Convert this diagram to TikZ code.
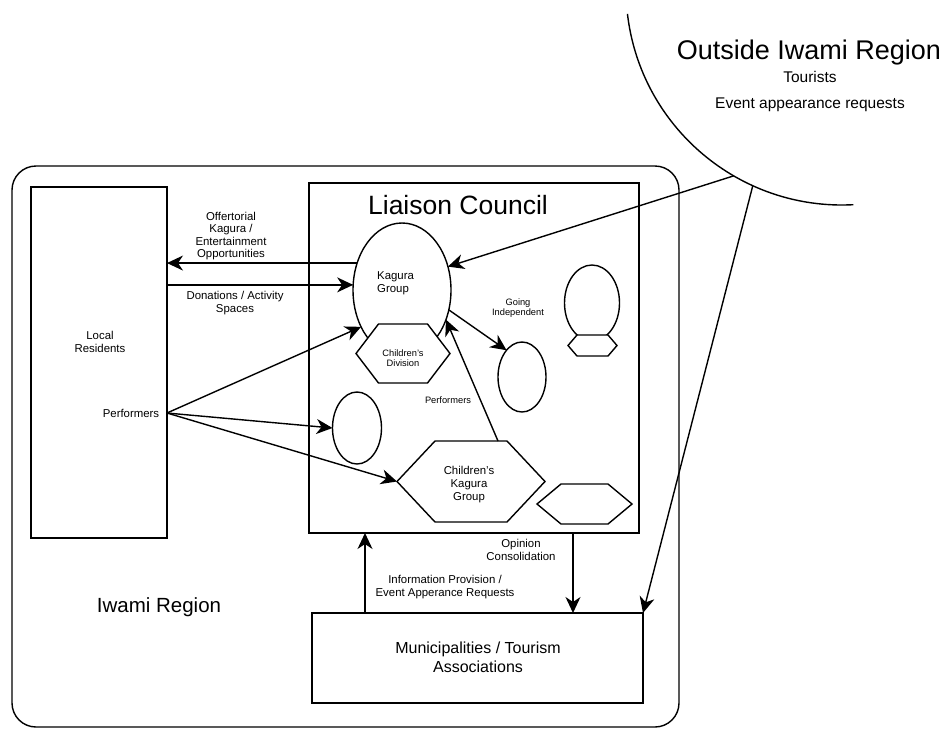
\documentclass[tikz,border=0pt]{standalone}
\usepackage{fontspec}
\setmainfont{Liberation Sans}
\usetikzlibrary{arrows.meta,shapes.geometric}
\newcommand\hexnode[6]{%
  \coordinate (#1) at (#2,#3);
  \coordinate (#1-W) at ({#2-#4},#3);
  \coordinate (#1-E) at ({#2+#4},#3);
  \coordinate (#1-NW) at ({#2-#6},{#3-#5});
  \coordinate (#1-NE) at ({#2+#6},{#3-#5});
  \coordinate (#1-SE) at ({#2+#6},{#3+#5});
  \coordinate (#1-SW) at ({#2-#6},{#3+#5});
  \draw[ln, fill=white] (#1-W) -- (#1-NW) -- (#1-NE) -- (#1-E) -- (#1-SE) -- (#1-SW) -- cycle;
}
\tikzset{
  ln/.style={line width=1.4pt, line join=miter},
  arr/.style={ln, -{Stealth[length=16pt,width=15pt,inset=5pt]}},
  box/.style={draw, ln, rectangle, inner sep=0pt, outer sep=0pt},
  ell/.style={draw, ln, ellipse, inner sep=0pt, outer sep=0pt, fill=white},
  lbl/.style={inner sep=0pt, align=center, font=\fontsize{11.4}{12.6}\selectfont},
  tinylbl/.style={inner sep=0pt, align=center, font=\fontsize{9.3}{10.3}\selectfont},
}
\begin{document}
\begin{tikzpicture}[x=1pt,y=-1pt]
\useasboundingbox (0,0) rectangle (948,729);

% Outside Iwami Region
\coordinate (oc) at (842,-11);
\draw[ln] ([shift={(173.4:216)}]oc) arc[start angle=173.4, end angle=87, radius=216];
\coordinate (b1) at ([shift={(120.1:216)}]oc);
\coordinate (b2) at ([shift={(114.4:216)}]oc);
\node[inner sep=0pt, font=\fontsize{27}{30}\selectfont] (outt) at (809,53) {Outside Iwami Region};
\node[inner sep=0pt, font=\fontsize{15.5}{18}\selectfont] (tour) at (810,77) {Tourists};
\node[inner sep=0pt, font=\fontsize{15.5}{18}\selectfont] (evreq) at (810,105) {Event appearance requests};

% Iwami region
\node[box, rounded corners=24pt, minimum width=667pt, minimum height=561pt] (iwami) at (345.5,446.5) {};
\node[inner sep=0pt, font=\fontsize{20.5}{24}\selectfont] (iwt) at (159,607) {Iwami Region};

% Local residents
\node[box, minimum width=136pt, minimum height=351pt] (locres) at (99,362.5) {};
\node[lbl] (lrt) at (100,342) {Local\\Residents};
\node[lbl] (perf) at (131,413) {Performers};
\coordinate (pf) at (locres.east |- perf.east);

% Liaison council
\node[box, minimum width=330pt, minimum height=350pt] (liaison) at (474,358) {};
\node[inner sep=0pt, font=\fontsize{26.5}{30}\selectfont] (lct) at (458,205) {Liaison Council};

% Ellipses
\node[ell, minimum width=98pt, minimum height=134pt] (kagura) at (402,290) {};
\node[inner sep=0pt, align=left, anchor=west, font=\fontsize{11.4}{12.6}\selectfont] (kgt) at (377,283) {Kagura\\Group};
\node[ell, minimum width=49pt, minimum height=72pt] (ell2) at (357,428) {};
\node[ell, minimum width=48pt, minimum height=70pt] (ell3) at (522,377) {};
\node[ell, minimum width=55pt, minimum height=76pt] (ell4) at (592,303) {};

% Hexagons
\hexnode{cdiv}{403}{353.5}{47}{29.5}{24.5}
\node[tinylbl] (cdt) at (403,358) {Children's\\Division};
\hexnode{ckg}{471}{481.5}{74}{40.5}{36}
\node[lbl] (ckgt) at (469,484.5) {Children's\\Kagura\\Group};
\hexnode{hexc}{584.5}{504}{47.5}{20}{23.5}
\hexnode{hexd}{592.5}{345.5}{24.5}{10.5}{15.5}

\node[tinylbl] (goind) at (518,308) {Going\\Independent};
\node[tinylbl] (perf2) at (448,400) {Performers};

% Municipalities
\node[box, minimum width=331pt, minimum height=90pt] (muni) at (477.5,658) {};
\node[inner sep=0pt, align=center, font=\fontsize{16}{19}\selectfont] (munit) at (478,657) {Municipalities / Tourism\\Associations};

% Labels on connectors
\node[lbl] (offt) at (231,236) {Offertorial\\Kagura /\\Entertainment\\Opportunities};
\node[lbl] (dont) at (235,303) {Donations / Activity\\Spaces};
\node[lbl] (opt) at (521,550) {Opinion\\Consolidation};
\node[lbl] (inft) at (445,587) {Information Provision /\\Event Apperance Requests};

% Connectors
\draw[arr] (kagura.149) -- (kagura.149 -| locres.east);
\draw[arr] (kagura.174 -| locres.east) -- (kagura.174);
\draw[arr] (pf) -- (kagura.222);
\draw[arr] (pf) -- (ell2.west);
\draw[arr] (pf) -- (ckg-W);
\draw[arr] (kagura.-23) -- (ell3.120);
\coordinate (ckgtop) at (498,441);
\draw[arr] (ckgtop) -- (kagura.-34);
\draw[arr] (b1) -- (kagura.27);
\draw[arr] (b2) -- (muni.north east);
\coordinate (upx) at (365,0);
\coordinate (dnx) at (573,0);
\draw[arr] (muni.north -| upx) -- (liaison.south -| upx);
\draw[arr] (liaison.south -| dnx) -- (muni.north -| dnx);
\end{tikzpicture}
\end{document}
